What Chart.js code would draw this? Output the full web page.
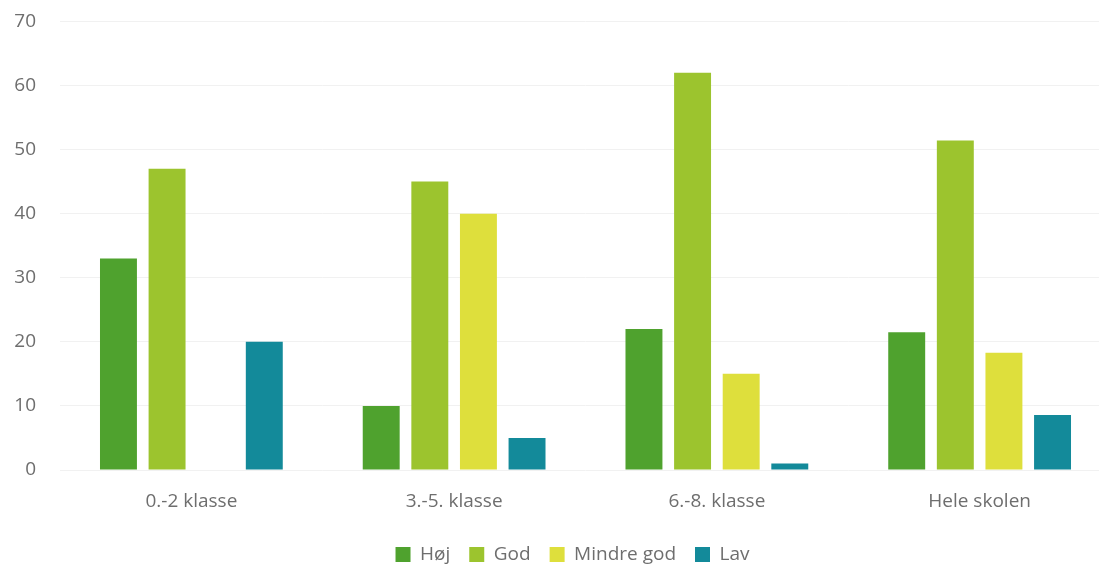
<!DOCTYPE html>
<html>
<head>
<meta charset="utf-8">
<script src="https://cdn.jsdelivr.net/npm/chart.js@4"></script>
<style>
html,body{margin:0;padding:0;background:#fff;overflow:hidden;}
#wrap{width:1115px;height:581px;position:relative;margin-top:-14px;}
</style>
</head>
<body>
<div id="wrap"><canvas id="c"></canvas></div>
<script>
const categories = ["0.-2 klasse", "3.-5. klasse", "6.-8. klasse", "Hele skolen"];
const hoej = [33, 10, 22, 21.5];
const god = [47, 45, 62, 51.4];
const mindreGod = [0, 40, 15, 18.3];
const lav = [20, 5, 1, 8.6];
const yTicks = [0, 10, 20, 30, 40, 50, 60, 70];

const font = "'Open Sans', sans-serif";
const ds = (label, data, color) => ({
  label, data, backgroundColor: color, borderWidth: 0,
  categoryPercentage: 0.74, barPercentage: 0.76
});

const shiftLegend = {
  id: 'shiftLegend',
  afterLayout(chart) { if (chart.legend) { chart.legend.left += 34; } }
};

new Chart(document.getElementById('c'), {
  type: 'bar',
  data: {
    labels: categories,
    datasets: [
      ds('Høj', hoej, '#4fa22e'),
      ds('God', god, '#9cc42e'),
      ds('Mindre god', mindreGod, '#dedf3c'),
      ds('Lav', lav, '#138a9a')
    ]
  },
  plugins: [shiftLegend],
  options: {
    responsive: true,
    maintainAspectRatio: false,
    animation: false,
    layout: { padding: { top: 0, right: 4, left: 0, bottom: -7 } },
    plugins: {
      tooltip: { enabled: false },
      legend: {
        position: 'bottom',
        labels: {
          boxWidth: 15, boxHeight: 15, padding: 19,
          color: '#6e6e6e',
          font: { family: font, size: 19 }
        }
      }
    },
    scales: {
      x: {
        grid: { display: false },
        border: { display: false },
        afterFit: (s) => { s.height = 56; },
        ticks: { color: '#6e6e6e', font: { family: font, size: 19 }, padding: 12 }
      },
      y: {
        min: 0, max: 70,
        afterBuildTicks: (s) => { s.ticks = yTicks.map(v => ({ value: v })); },
        afterFit: (s) => { s.width = 60; },
        grid: { color: '#f1f1f1', drawTicks: false },
        border: { display: false },
        ticks: { color: '#6e6e6e', font: { family: font, size: 19 }, padding: 24 }
      }
    }
  }
});
</script>
</body>
</html>
